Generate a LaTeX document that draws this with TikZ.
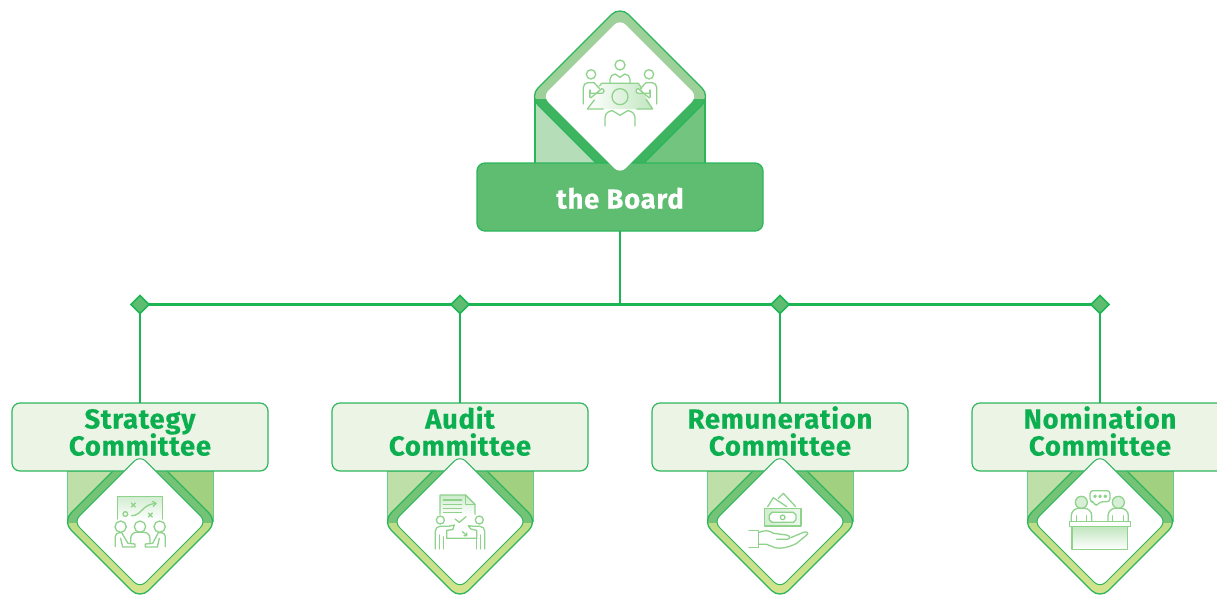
\documentclass[tikz,border=0pt]{standalone}
\usepackage{fontspec}
\setmainfont{Fira Sans}
\newcommand{\labelfont}{\fontsize{27.5}{28}\selectfont\bfseries\addfontfeatures{LetterSpace=2.5,FakeBold=0.25}}
\usetikzlibrary{shapes.geometric}
\definecolor{gline}{HTML}{1DB554}
\definecolor{gedge}{HTML}{2DB55B}
\definecolor{gboard}{HTML}{5FBD72}
\definecolor{gpale}{HTML}{ECF4E6}
\definecolor{gicon}{HTML}{8FD28C}
\definecolor{gtext}{HTML}{0BAF4F}
\definecolor{ColL}{HTML}{BFDFA9}
\definecolor{ColR}{HTML}{A0D080}
\definecolor{ColU}{HTML}{74C376}
\definecolor{ColA}{HTML}{A6D67F}
\definecolor{ColB}{HTML}{D6E48E}
\definecolor{TopL}{HTML}{B5DDB8}
\definecolor{TopR}{HTML}{73C47F}
\definecolor{TopU}{HTML}{9ED199}
\definecolor{TopD}{HTML}{3DB45F}
\tikzset{
  conn/.style={draw=gline,line width=2.2pt},
  junction/.style={diamond,aspect=1,draw=gline,fill=gboard,line width=1.5pt,minimum width=18pt,minimum height=18pt,inner sep=0pt,outer sep=0pt},
  boardbox/.style={rectangle,rounded corners=8pt,draw=gedge,fill=gboard,line width=1.3pt,minimum width=286pt,minimum height=68pt,inner sep=0pt,outer sep=0pt},
  combox/.style={rectangle,rounded corners=8pt,draw=gedge,fill=gpale,line width=1.2pt,minimum width=256pt,minimum height=68pt,inner sep=0pt,outer sep=0pt},
  comtext/.style={text=gtext,font=\labelfont,anchor=base,inner sep=0pt},
  whitedia/.style={diamond,aspect=1,rounded corners=8pt,fill=white,inner sep=0pt},
  icon/.style={draw=gicon,line width=1.3pt,line join=round,line cap=round},
  zoomed/.style={shift={(#1)},scale=1/3},
}
\newcommand{\rdiam}[3]{(#1,#2-#3) [rounded corners=12pt] -- (#1+#3,#2) -- (#1,#2+#3) -- (#1-#3,#2) -- cycle}
\newcommand{\committee}[4]{%
  \path[fill=ColL,draw=gedge!70,line width=.8pt] (#2-73,471) -- (#2-73,521) -- (#2,521) -- (#2,471) -- cycle;
  \path[fill=ColR,draw=gedge!70,line width=.8pt] (#2+73,471) -- (#2+73,521) -- (#2,521) -- (#2,471) -- cycle;
  \begin{scope}\clip (#2-90,440) rectangle (#2+90,523);
    \fill[ColU] \rdiam{#2}{521.5}{77.5};
  \end{scope}
  \begin{scope}\clip (#2-90,523) rectangle (#2+90,600);
    \shade[top color=ColA,bottom color=ColB] \rdiam{#2}{521.5}{77.5};
  \end{scope}
  \draw[gedge,line width=1.3pt] \rdiam{#2}{521.5}{77.5};
  \node[combox] (#1box) at (#2,437) {};
  \node[junction] (#1j) at (#2,304.5) {};
  \node[whitedia,draw=gedge,line width=1pt,minimum width=133pt,minimum height=133pt] (#1dia) at (#2,521.7) {};
  \node[comtext] (#1a) at (#2,428.5) {#3};
  \node[comtext] (#1b) at (#2,455.5) {#4};
}
\begin{document}
\begin{tikzpicture}[x=1pt,y=-1pt]
\useasboundingbox (0,0) rectangle (1217,598);
% ---- the Board
\path[fill=TopL,draw=gedge,line width=1.2pt] (535,96) -- (535,165) -- (620,165) -- (620,96) -- cycle;
\path[fill=TopR,draw=gedge,line width=1.2pt] (705,96) -- (705,165) -- (620,165) -- (620,96) -- cycle;
\begin{scope}\clip (520,0) rectangle (720,99);
  \fill[TopU] \rdiam{620}{96.5}{90.5};
\end{scope}
\begin{scope}\clip (520,99) rectangle (720,200);
  \fill[TopD] \rdiam{620}{96.5}{90.5};
\end{scope}
\draw[gedge,line width=1.3pt] \rdiam{620}{96.5}{90.5};
\node[boardbox] (board) at (620,197) {};
\node[whitedia,minimum width=155pt,minimum height=155pt] (boarddia) at (620,96.5) {};
\node[text=white,font=\labelfont,anchor=base,inner sep=0pt] (boardtext) at (620,208.5) {the Board};
% ---- committees
\committee{s}{140}{Strategy}{Committee}
\committee{a}{460}{Audit}{Committee}
\committee{r}{780}{Remuneration}{Committee}
\committee{n}{1100}{Nomination}{Committee}
% ---- connectors
\coordinate (hub) at (620,304.5);
\draw[conn] (board.south) -- (hub);
\draw[conn] (sj) -- (aj);
\draw[conn] (aj) -- (rj);
\draw[conn] (rj) -- (nj);
\draw[conn] (sj) -- (sbox);
\draw[conn] (aj) -- (abox);
\draw[conn] (rj) -- (rbox);
\draw[conn] (nj) -- (nbox);
% ---- board icon
\begin{scope}[zoomed={560,40}]
  \shade[left color=white,right color=gicon!55] (125,130) -- (235,130) -- (278,207) -- (82,207) -- cycle;
  \draw[icon] (118,138) -- (125,130) -- (235,130) -- (245,145);
  \draw[icon] (103,180) -- (82,207) -- (130,207);
  \draw[icon] (230,207) -- (278,207) -- (258,178);
  \draw[icon] (180,75) circle (15);
  \draw[icon] (150,128) -- (150,118) arc[start angle=180,end angle=270,radius=16] -- (180,112) -- (194,102) arc[start angle=270,end angle=360,radius=16] -- (210,128);
  \draw[icon] (93,103) circle (14);
  \draw[icon] (70,192) -- (70,142) arc[start angle=180,end angle=270,radius=14] -- (102,128) -- (118,145);
  \draw[icon] (90,150) -- (90,172);
  \draw[fill=white,icon] (92,160) -- (125,160) arc[start angle=90,end angle=-90,radius=7] -- (92,174);
  \draw[icon] (267,103) circle (14);
  \draw[icon] (290,192) -- (290,142) arc[start angle=0,end angle=-90,radius=14] -- (258,128) -- (242,145);
  \draw[icon] (270,150) -- (270,172);
  \draw[fill=white,icon] (268,160) -- (235,160) arc[start angle=90,end angle=270,radius=7] -- (268,174);
  \draw[icon] (180,170) circle (24);
  \draw[icon] (135,258) -- (135,234) arc[start angle=180,end angle=270,radius=22] -- (180,226) -- (203,212) arc[start angle=270,end angle=360,radius=22] -- (225,258);
\end{scope}
% ---- strategy icon
\begin{scope}[zoomed={0,395}]
  \shade[top color=gicon!40,bottom color=white] (352,305) rectangle (488,375);
  \draw[icon] (352,372) -- (352,305) -- (488,305) -- (488,372);
  \draw[icon] (394,324) -- (406,336) (406,324) -- (394,336);
  \draw[icon] (445,354) -- (457,366) (457,354) -- (445,366);
  \draw[icon] (376,357) circle (7);
  \draw[icon] (395,362) .. controls (425,362) and (425,328) .. (468,325);
  \draw[icon] (458,319) -- (468,325) -- (460,334);
  \draw[icon] (362,395) circle (17);
  \draw[icon] (420,395) circle (17);
  \draw[icon] (479,395) circle (17);
  \draw[icon] (392,445) -- (392,430) arc[start angle=180,end angle=270,radius=18] -- (432,412) arc[start angle=270,end angle=360,radius=18] -- (450,445);
  \draw[icon] (346,455) -- (346,425) arc[start angle=180,end angle=270,radius=12] -- (365,413) -- (384,445) -- (405,447) -- (405,456) -- (368,456) -- (362,430);
  \draw[icon] (496,455) -- (496,425) arc[start angle=0,end angle=-90,radius=12] -- (475,413) -- (458,445) -- (436,447) -- (436,456) -- (472,456) -- (478,430);
\end{scope}
% ---- audit icon
\begin{scope}[zoomed={320,395}]
  \shade[top color=gicon!45,bottom color=white] (360,300) -- (437,300) -- (465,328) -- (465,358) -- (360,358) -- cycle;
  \draw[icon] (360,358) -- (360,300) -- (437,300) -- (465,328) -- (465,358);
  \draw[icon] (437,300) -- (437,328) -- (465,328);
  \draw[icon] (370,315) -- (425,315) (370,328) -- (425,328) (370,340) -- (425,340) (370,352) -- (425,352);
  \draw[icon] (405,372) -- (418,382) -- (438,365);
  \draw[icon] (361,375) circle (12);
  \draw[icon] (478,375) circle (12);
  \draw[icon] (346,462) -- (346,408) arc[start angle=180,end angle=270,radius=14] -- (385,394) -- (403,390) -- (398,404) -- (380,406) -- (380,430) -- (470,430) -- (470,406) -- (452,402) -- (445,392) -- (462,394) -- (480,394) arc[start angle=270,end angle=360,radius=14] -- (494,462);
  \draw[icon] (358,462) -- (358,420) (370,462) -- (370,425) (470,462) -- (470,430) (482,462) -- (482,420);
  \draw[icon] (428,410) -- (440,422) (440,414) -- (440,422) -- (432,422);
\end{scope}
% ---- remuneration icon
\begin{scope}[zoomed={640,395}]
  \draw[icon] (383,335) -- (400,308) -- (440,335);
  \draw[icon] (415,310) -- (430,295) -- (467,335);
  \shade[left color=gicon!40,right color=gicon!15] (373,340) rectangle (483,393);
  \draw[icon] (373,340) rectangle (483,393);
  \fill[white] (396,352) -- (460,352) -- (468,360) -- (468,374) -- (460,382) -- (396,382) -- (388,374) -- (388,360) -- cycle;
  \draw[icon] (396,352) -- (460,352) -- (468,360) -- (468,374) -- (460,382) -- (396,382) -- (388,374) -- (388,360) -- cycle;
  \draw[icon] (428,367) circle (7);
  \draw[icon] (327,407) -- (355,407) -- (355,458) -- (327,458);
  \draw[icon] (355,413) .. controls (372,405) and (388,405) .. (400,415) -- (440,420) .. controls (452,422) and (452,433) .. (440,433) -- (410,433);
  \draw[icon] (452,428) -- (490,412) .. controls (500,408) and (508,414) .. (500,420) -- (470,445) .. controls (445,458) and (420,462) .. (405,458) -- (380,448) -- (355,448);
\end{scope}
% ---- nomination icon
\begin{scope}[zoomed={960,395}]
  \draw[icon,rounded corners=3pt] (390,287) -- (450,287) -- (450,320) -- (420,320) -- (407,335) -- (402,320) -- (390,320) -- cycle;
  \draw[icon] (405,304) circle (3.5) (420,304) circle (3.5) (436,304) circle (3.5);
  \draw[icon,fill=gicon!35] (364,322) circle (18);
  \draw[icon,fill=gicon!35] (475,322) circle (18);
  \draw[icon] (334,380) -- (334,362) arc[start angle=180,end angle=270,radius=22] -- (373,340) arc[start angle=270,end angle=360,radius=22] -- (395,380);
  \draw[icon] (444,380) -- (444,362) arc[start angle=180,end angle=270,radius=22] -- (483,340) arc[start angle=270,end angle=360,radius=22] -- (505,380);
  \draw[icon] (350,362) -- (350,380) (380,362) -- (380,380) (458,362) -- (458,380) (490,362) -- (490,380);
  \shade[top color=gicon!55,bottom color=white] (336,395) rectangle (503,463);
  \draw[icon] (336,395) rectangle (503,463);
  \draw[icon,fill=white] (328,380) rectangle (511,395);
\end{scope}
\end{tikzpicture}
\end{document}
